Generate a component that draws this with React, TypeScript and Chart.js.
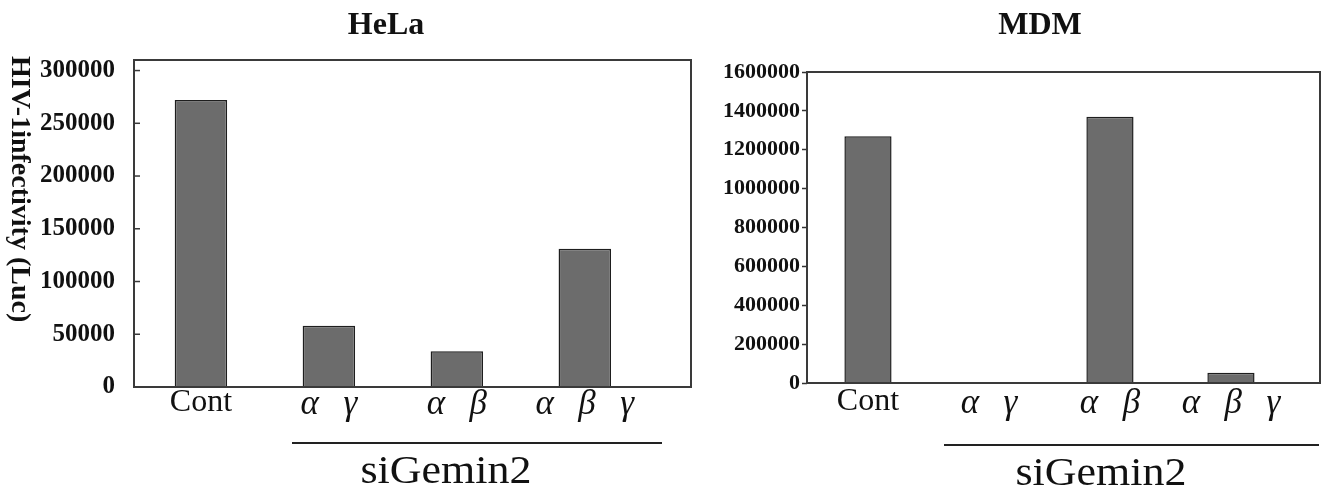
import React, { useEffect, useRef } from "react";
import { Chart, registerables } from "chart.js";

Chart.register(...registerables);

// ---- data ----
const categories = ["Cont", "α γ", "α β", "α β γ"];
const helaValues = [272000, 58000, 34000, 131000];
const mdmValues = [1270000, 3000, 1370000, 53000];
const helaTicks = [0, 50000, 100000, 150000, 200000, 250000, 300000];
const mdmTicks = [0, 200000, 400000, 600000, 800000, 1000000, 1200000, 1400000, 1600000];
const panelTitles = ["HeLa", "MDM"];
const groupLabel = "siGemin2";
const yAxisTitle = "HIV-1infectivity (Luc)";

const SERIF = '"Liberation Serif", "Times New Roman", serif';

type PanelCfg = {
  values: number[];
  ticks: number[];
  yMax: number;
  width: number;
  height: number;
  padTop: number;
  padRight: number;
  yWidth: number;
  xHeight: number;
  xMin: number;
  xMax: number;
  yFont: number;
  yPad: number;
  tickLen: number;
  innerTicks: boolean;
  barPct: number;
  xPad: number;
};

const boxPlugin = {
  id: "boxBorder",
  afterDraw(chart: any, _args: any, opts: any) {
    const { ctx, chartArea } = chart;
    ctx.save();
    ctx.strokeStyle = "#3a3a3a";
    ctx.lineWidth = 2;
    ctx.strokeRect(chartArea.left, chartArea.top, chartArea.right - chartArea.left, chartArea.bottom - chartArea.top);
    if (opts && opts.inner) {
      const y = chart.scales.y;
      ctx.lineWidth = 1.5;
      y.ticks.forEach((t: any) => {
        if (t.value <= 0 || t.value >= y.max) return;
        const py = y.getPixelForValue(t.value);
        ctx.beginPath();
        ctx.moveTo(chartArea.left, py);
        ctx.lineTo(chartArea.left + 6, py);
        ctx.stroke();
      });
    }
    ctx.restore();
  },
};

function Panel({ cfg }: { cfg: PanelCfg }) {
  const ref = useRef<HTMLCanvasElement>(null);
  useEffect(() => {
    if (!ref.current) return;
    const chart = new Chart(ref.current, {
      type: "bar",
      data: {
        datasets: [
          {
            data: cfg.values.map((v, i) => ({ x: i, y: v })),
            backgroundColor: "#6c6c6c",
            borderColor: "#1e1e1e",
            borderWidth: 1.5,
            barPercentage: cfg.barPct,
            categoryPercentage: 1,
          } as any,
        ],
      },
      options: {
        animation: false,
        responsive: false,
        maintainAspectRatio: false,
        layout: { padding: { top: cfg.padTop, right: cfg.padRight, left: 0, bottom: 0 } },
        plugins: {
          legend: { display: false },
          tooltip: { enabled: false },
          title: { display: false },
          boxBorder: { inner: cfg.innerTicks },
        } as any,
        scales: {
          x: {
            type: "linear",
            min: cfg.xMin,
            max: cfg.xMax,
            offset: false,
            border: { display: false },
            grid: { display: false, drawTicks: false },
            afterFit: (s: any) => {
              s.height = cfg.xHeight;
            },
            afterBuildTicks: (s: any) => {
              s.ticks = categories.map((_, i) => ({ value: i }));
            },
            ticks: {
              autoSkip: false,
              maxRotation: 0,
              minRotation: 0,
              padding: cfg.xPad,
              color: "#111",
              callback: (v: any) => categories[Math.round(Number(v))].replace(/ /g, "\u2002\u2009"),
              font: (ctx: any) =>
                ctx.index === 0
                  ? { family: SERIF, size: 32, weight: "normal", lineHeight: 1 }
                  : { family: SERIF, size: 35, style: "italic", weight: "normal", lineHeight: 1 },
            },
          },
          y: {
            type: "linear",
            min: 0,
            max: cfg.yMax,
            border: { display: false },
            grid: {
              drawOnChartArea: false,
              drawTicks: cfg.tickLen > 0,
              tickLength: cfg.tickLen,
              tickColor: "#333",
              tickWidth: 1.5,
            },
            afterFit: (s: any) => {
              s.width = cfg.yWidth;
            },
            afterBuildTicks: (s: any) => {
              s.ticks = cfg.ticks.map((v) => ({ value: v }));
            },
            ticks: {
              padding: cfg.yPad,
              color: "#111",
              font: { family: SERIF, size: cfg.yFont, weight: "bold" },
              callback: (v: any) => String(v),
            },
          },
        },
      } as any,
      plugins: [boxPlugin],
    });
    return () => chart.destroy();
  }, [cfg]);
  return <canvas ref={ref} width={cfg.width} height={cfg.height} style={{ display: "block", width: cfg.width, height: cfg.height }} />;
}

const helaCfg: PanelCfg = {
  values: helaValues,
  ticks: helaTicks,
  yMax: 310000,
  width: 700,
  height: 487,
  padTop: 60,
  padRight: 9,
  yWidth: 134,
  xHeight: 100,
  xMin: -0.523,
  xMax: 3.83,
  yFont: 25,
  yPad: 19,
  tickLen: 0,
  innerTicks: true,
  barPct: 0.41,
  xPad: 0,
};

const mdmCfg: PanelCfg = {
  values: mdmValues,
  ticks: mdmTicks,
  yMax: 1600000,
  width: 621,
  height: 487,
  padTop: 72,
  padRight: 1,
  yWidth: 107,
  xHeight: 104,
  xMin: -0.504,
  xMax: 3.736,
  yFont: 22,
  yPad: 2,
  tickLen: 5,
  innerTicks: false,
  barPct: 0.39,
  xPad: 3,
};

const abs = (s: React.CSSProperties): React.CSSProperties => ({ position: "absolute", ...s });

export default function App() {
  return (
    <div style={abs({ left: 0, top: 0, width: 1321, height: 487, background: "#fff", overflow: "hidden" })}>
      <div style={abs({ left: 0, top: 0 })}>
        <Panel cfg={helaCfg} />
      </div>
      <div style={abs({ left: 700, top: 0 })}>
        <Panel cfg={mdmCfg} />
      </div>
      {/* panel titles */}
      <div style={abs({ left: 286, top: 7, width: 200, textAlign: "center", font: `bold 32px ${SERIF}`, lineHeight: "32px", color: "#111" })}>
        {panelTitles[0]}
      </div>
      <div style={abs({ left: 940, top: 7, width: 200, textAlign: "center", font: `bold 32px ${SERIF}`, lineHeight: "32px", color: "#111" })}>
        {panelTitles[1]}
      </div>
      {/* y axis title */}
      <div
        style={abs({
          left: 7,
          top: 56,
          writingMode: "vertical-rl",
          font: `bold 28px ${SERIF}`,
          lineHeight: "28px",
          whiteSpace: "nowrap",
          color: "#111",
        })}
      >
        {yAxisTitle}
      </div>
      {/* group underlines */}
      <div style={abs({ left: 292, top: 442, width: 370, height: 2, background: "#222" })} />
      <div style={abs({ left: 944, top: 444, width: 375, height: 2, background: "#222" })} />
      {/* group labels */}
      <div style={abs({ left: 346, top: 450, width: 200, textAlign: "center", font: `40px ${SERIF}`, lineHeight: "40px", color: "#111", transform: "scaleX(1.1)", whiteSpace: "nowrap" })}>
        {groupLabel}
      </div>
      <div style={abs({ left: 1001, top: 452, width: 200, textAlign: "center", font: `40px ${SERIF}`, lineHeight: "40px", color: "#111", transform: "scaleX(1.1)", whiteSpace: "nowrap" })}>
        {groupLabel}
      </div>
    </div>
  );
}
